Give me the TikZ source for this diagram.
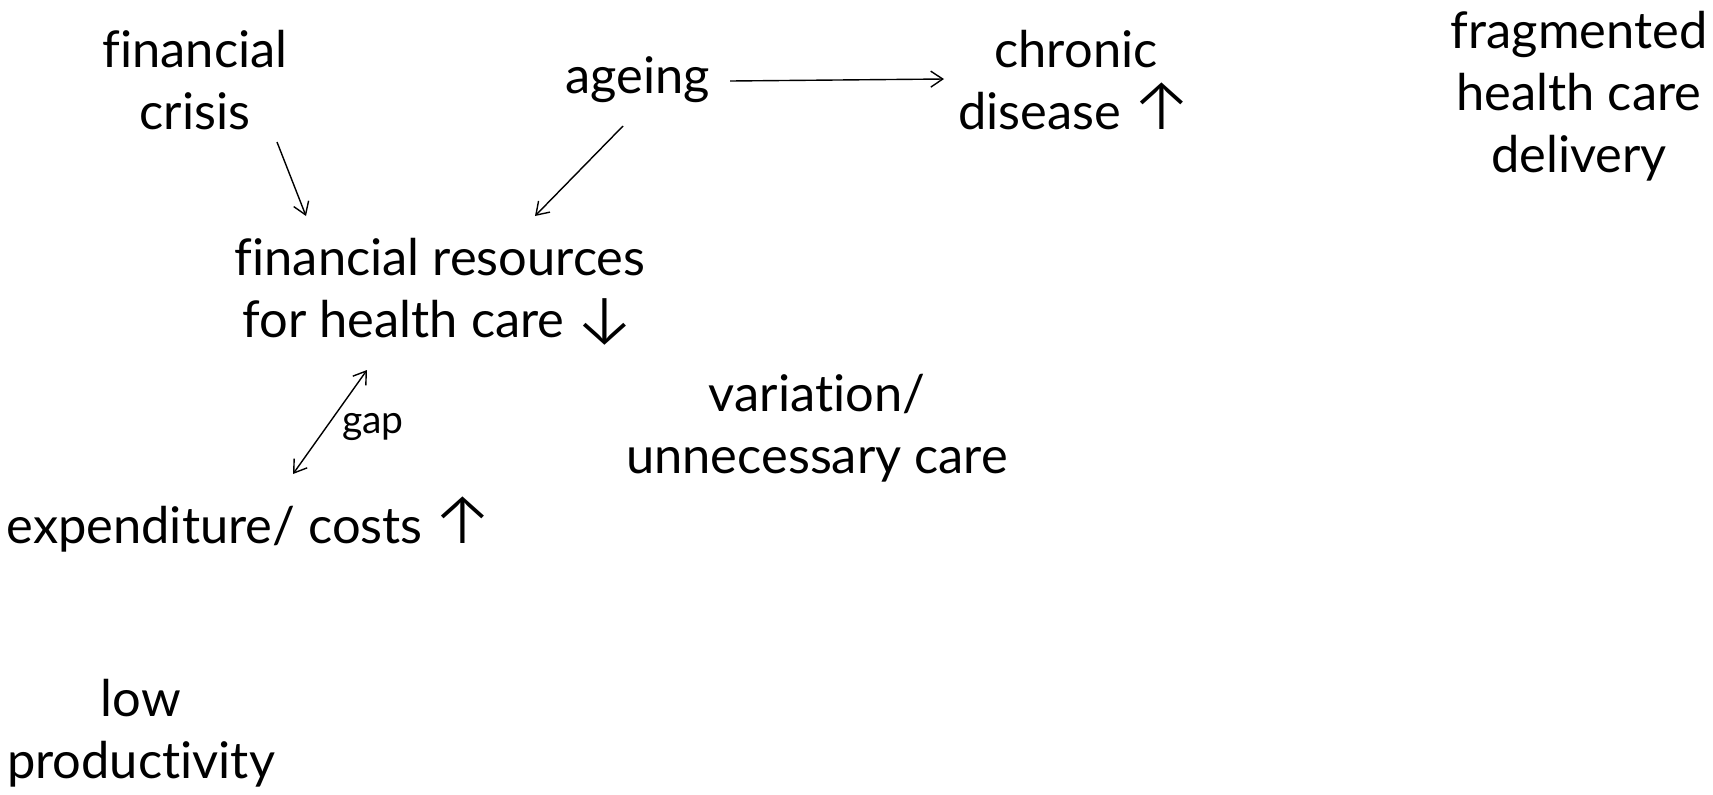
\documentclass[tikz,border=0pt]{standalone}
\usepackage{fontspec}
\setmainfont{Lato}[Ligatures={NoCommon}]
\newfontfamily\symfont{Fira Sans Light}
\usetikzlibrary{arrows.meta,calc}
\newcommand{\upar}{\hspace{-2.5pt}{\symfont\fontsize{36}{31}\selectfont ↑}}
\newcommand{\dnar}{\hspace{-2.5pt}\raisebox{-3pt}{\symfont\fontsize{36}{31}\selectfont ↓}}
\begin{document}
\begin{tikzpicture}[x=0.5pt,y=-0.5pt,
  lbl/.style={inner sep=0pt,align=center,font=\fontsize{25.3}{31}\selectfont},
  small/.style={inner sep=0pt,font=\fontsize{19.5}{22}\selectfont},
  arr/.style={line width=0.7pt,-{Straight Barb[length=6pt,width=8pt]}},
  darr/.style={line width=0.7pt,{Straight Barb[length=6pt,width=8pt]}-{Straight Barb[length=6pt,width=8pt]}}]
\useasboundingbox (0,0) rectangle (1713,794);
\node[lbl] (fc) at (195,80) {financial\\crisis};
\node[lbl] (ag) at (638,80) {ageing};
\node[lbl] (ch) at (1076,80) {chronic\\disease \upar};
\node[lbl] (fh) at (1579,96) {fragmented\\health care\\delivery};
\node[lbl] (fr) at (440,292) {financial resources\\for health care \dnar};
\node[lbl] (va) at (817,428) {variation/\\unnecessary care};
\node[lbl] (ex) at (251,524) {expenditure/ costs \upar};
\node[lbl] (lp) at (141,733) {low\\productivity};
\node[small] (gp) at (373,427) {gap};
\draw[arr] ([shift={(82,62)}]fc.center) -- ([shift={(-134,-76)}]fr.center);
\draw[arr] ([shift={(-15,46)}]ag.center) -- ([shift={(95,-76)}]fr.center);
\draw[arr] ([shift={(92,1)}]ag.center) -- ([shift={(-132,-1)}]ch.center);
\draw[darr] ([shift={(-73,78)}]fr.center) -- ([shift={(42,-50)}]ex.center);
\end{tikzpicture}
\end{document}
